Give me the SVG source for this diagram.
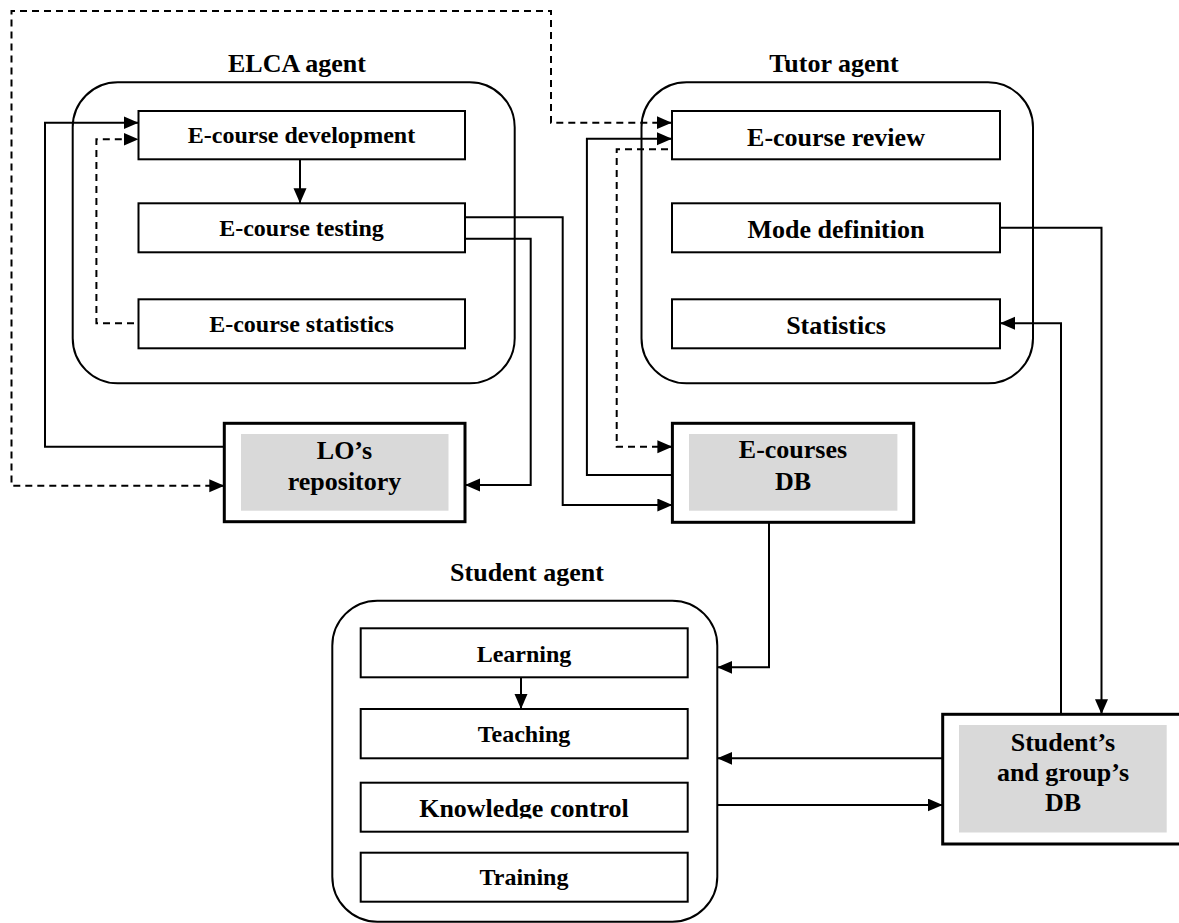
<svg xmlns="http://www.w3.org/2000/svg" width="1179" height="923" viewBox="0 0 1179 923">
<defs>
<style>
text{font-family:"Liberation Serif","Times New Roman",serif;font-weight:bold;fill:#000;text-anchor:middle}
.t26{font-size:26px}
.t24{font-size:24px}
.agent{fill:#fff;stroke:#000;stroke-width:2}
.box{fill:#fff;stroke:#000;stroke-width:2}
.db{fill:#fff;stroke:#000;stroke-width:3}
.dbin{fill:#d9d9d9;stroke:none}
.c{fill:none;stroke:#000;stroke-width:2}
.d{fill:none;stroke:#000;stroke-width:2;stroke-dasharray:7 5}
</style>
<marker id="ah" markerUnits="userSpaceOnUse" markerWidth="16" markerHeight="14" refX="15" refY="6.5" orient="auto-start-reverse">
<path d="M0,0 L15,6.5 L0,13 Z" fill="#000" stroke="none"/>
</marker>
<clipPath id="kc"><rect x="360" y="780" width="330" height="38.5"/></clipPath>
</defs>
<rect width="1179" height="923" fill="#fff"/>

<g id="elca-agent">
<text class="t26" x="297" y="72">ELCA agent</text>
<rect class="agent" x="72.7" y="82.3" width="442" height="301" rx="45" ry="45"/>
</g>
<g id="tutor-agent">
<text class="t26" x="834" y="72">Tutor agent</text>
<rect class="agent" x="641.5" y="82.3" width="391.5" height="301" rx="45" ry="45"/>
</g>
<g id="student-agent">
<text class="t26" x="527" y="580.7">Student agent</text>
<rect class="agent" x="332.3" y="600.7" width="385" height="321" rx="45" ry="45"/>
</g>

<g id="e-course-development">
<rect class="box" x="138.5" y="111" width="326.5" height="48.3"/>
<text class="t24" x="301.5" y="143.3">E-course development</text>
</g>
<g id="e-course-testing">
<rect class="box" x="138.5" y="203.3" width="326.5" height="49"/>
<text class="t24" x="301.5" y="235.7">E-course testing</text>
</g>
<g id="e-course-statistics">
<rect class="box" x="138.5" y="299.3" width="326.5" height="49"/>
<text class="t24" x="301.5" y="331.7">E-course statistics</text>
</g>

<g id="e-course-review">
<rect class="box" x="672" y="111" width="328" height="48.3"/>
<text class="t26" x="836" y="145.7">E-course review</text>
</g>
<g id="mode-definition">
<rect class="box" x="672" y="203.3" width="328" height="49"/>
<text class="t26" x="836" y="238.3">Mode definition</text>
</g>
<g id="statistics">
<rect class="box" x="672" y="299.3" width="328" height="49"/>
<text class="t26" x="836" y="334">Statistics</text>
</g>

<g id="learning">
<rect class="box" x="360.7" y="628.3" width="327" height="49"/>
<text class="t24" x="524" y="661.7">Learning</text>
</g>
<g id="teaching">
<rect class="box" x="360.7" y="709" width="327" height="49.3"/>
<text class="t24" x="524" y="741.7">Teaching</text>
</g>
<g id="knowledge-control">
<rect class="box" x="360.7" y="782.7" width="327" height="49"/>
<text class="t26" x="524" y="817" clip-path="url(#kc)">Knowledge control</text>
</g>
<g id="training">
<rect class="box" x="360.7" y="852.7" width="327" height="49"/>
<text class="t24" x="524" y="885">Training</text>
</g>

<g id="los-repository">
<rect class="db" x="224.3" y="423.3" width="240.7" height="98.4"/>
<rect class="dbin" x="241" y="434" width="207.5" height="76.7"/>
<text class="t26" x="344.5" y="459">LO’s</text>
<text class="t26" x="344.5" y="490">repository</text>
</g>
<g id="e-courses-db">
<rect class="db" x="672.4" y="423.3" width="241.3" height="99"/>
<rect class="dbin" x="689" y="434" width="208.4" height="76.7"/>
<text class="t26" x="793" y="458.3">E-courses</text>
<text class="t26" x="793" y="490">DB</text>
</g>
<g id="students-db">
<rect class="db" x="942.7" y="714.3" width="245" height="129.7"/>
<rect class="dbin" x="959" y="725" width="207.7" height="107.5"/>
<text class="t26" x="1063" y="750.7">Student’s</text>
<text class="t26" x="1063" y="781">and group’s</text>
<text class="t26" x="1063" y="811">DB</text>
</g>

<g id="connectors">
<path class="d" d="M224.3,485.7 H11.5 V11 H551 V122.7 H671.7" marker-start="url(#ah)" marker-end="url(#ah)"/>
<path class="c" d="M224.3,446.7 H45 V122.7 H138.5" marker-end="url(#ah)"/>
<path class="d" d="M134,323.3 H96.4 V139.3 H138.5" marker-end="url(#ah)"/>
<path class="c" d="M300,159.3 V203.3" marker-end="url(#ah)"/>
<path class="c" d="M465,217.3 H562.7 V505 H672.4" marker-end="url(#ah)"/>
<path class="c" d="M465,238.7 H530.7 V485 H465" marker-end="url(#ah)"/>
<path class="c" d="M672.4,475 H586.9 V138.7 H672" marker-end="url(#ah)"/>
<path class="d" d="M668,149.3 H616.7 V446.7 H672.4" marker-end="url(#ah)"/>
<path class="c" d="M1000,227.7 H1101.5 V714.3" marker-end="url(#ah)"/>
<path class="c" d="M1061,714.3 V323.3 H1000" marker-end="url(#ah)"/>
<path class="c" d="M769,522.3 V667.3 H717.3" marker-end="url(#ah)"/>
<path class="c" d="M942.7,758.3 H717.3" marker-end="url(#ah)"/>
<path class="c" d="M717.3,805 H942.7" marker-end="url(#ah)"/>
<path class="c" d="M521,677.3 V709" marker-end="url(#ah)"/>
</g>
</svg>
